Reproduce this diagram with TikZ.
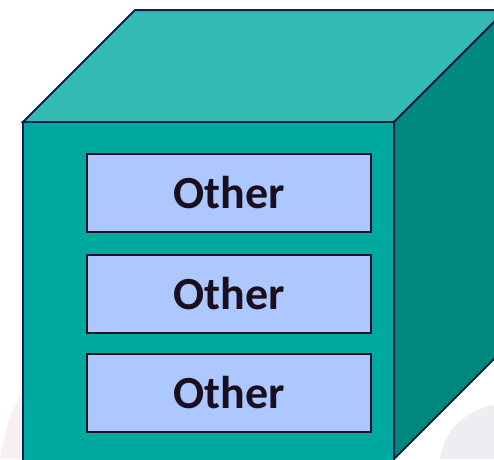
\documentclass[tikz,border=0pt]{standalone}
\usepackage{fontspec}
\setmainfont{Carlito}
\definecolor{topc}{HTML}{33BBB3}
\definecolor{frontc}{HTML}{00A99D}
\definecolor{sidec}{HTML}{00887C}
\definecolor{boxc}{HTML}{ADC8FF}
\definecolor{edgec}{HTML}{0B1F4A}
\definecolor{boxedge}{HTML}{1B1326}
\definecolor{txtc}{HTML}{1A0F1F}
\definecolor{wm}{HTML}{F7F0F3}
\definecolor{wm2}{HTML}{EEEEF2}
\begin{document}
\begin{tikzpicture}[x=1pt,y=-1pt,
  face/.style={draw=edgec,line width=2pt,line join=miter},
  slot/.style={draw=boxedge,fill=boxc,line width=1.8pt,minimum width=284pt,minimum height=78pt,inner sep=0pt,
    font=\fontsize{46}{50}\selectfont\bfseries,text=txtc}]
\useasboundingbox (0,0) rectangle (494,459);
\clip (0,0) rectangle (494,459);
\fill[white] (0,0) rectangle (494,459);
% faint watermark
\fill[wm] (0,459) .. controls (8,410) and (20,390) .. (40,385) -- (40,459) -- cycle;
\fill[wm2] (440,459) .. controls (445,425) and (470,410) .. (494,405) -- (494,459) -- cycle;
% cube faces
\path[face,fill=topc] (23,122) -- (135,10) -- (506,10) -- (394,122) -- cycle;
\path[face,fill=sidec] (394,122) -- (506,10) -- (506,347) -- (394,459) -- cycle;
\path[face,fill=frontc] (23,122) -- (394,122) -- (394,470) -- (23,470) -- cycle;
% slots
\node[slot] (s1) at (229,193) {Other};
\node[slot] (s2) at (229,294) {Other};
\node[slot] (s3) at (229,393) {Other};
\end{tikzpicture}
\end{document}
